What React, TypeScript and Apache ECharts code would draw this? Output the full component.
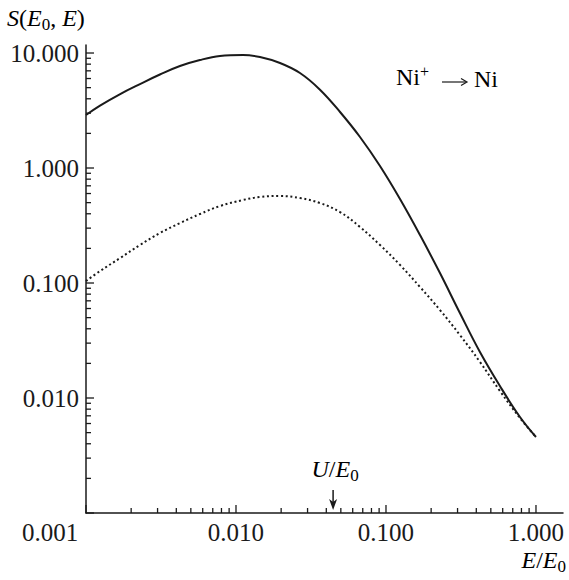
import { useEffect, useRef } from "react";
import * as echarts from "echarts";

const X_RANGE = [0.001, 1.514];
const Y_RANGE = [0.001, 11.74];
const X_MAJOR = [0.001, 0.01, 0.1, 1];
const Y_MAJOR = [0.001, 0.01, 0.1, 1, 10];
const X_MINOR_DECADES = [0.001, 0.01, 0.1];
const Y_MINOR_DECADES = [0.001, 0.01, 0.1, 1];
const MINOR_STEPS = [2, 3, 4, 5, 6, 7, 8, 9];

const E_RATIO = [0.001, 0.00124, 0.00169, 0.00229, 0.00311, 0.00423, 0.00575, 0.00782, 0.01114, 0.01445, 0.01965, 0.0267, 0.0363, 0.0494, 0.0671, 0.0912, 0.124, 0.1686, 0.229, 0.311, 0.423, 0.575, 0.782, 1.0];
const SOLID_Y = [2.89, 3.49, 4.4, 5.37, 6.5, 7.71, 8.69, 9.42, 9.61, 9.23, 8.19, 6.7, 4.8, 3.07, 1.86, 1.04, 0.537, 0.261, 0.122, 0.0548, 0.0251, 0.0127, 0.00684, 0.00458];
const DOTTED_Y = [0.104, 0.127, 0.165, 0.214, 0.272, 0.332, 0.398, 0.467, 0.527, 0.56, 0.571, 0.548, 0.496, 0.414, 0.307, 0.214, 0.1436, 0.0923, 0.0582, 0.0353, 0.0206, 0.01151, 0.0067, 0.00458];

const U_E0 = 0.0444;

const FONT = "Liberation Serif";
const INK = "#1a1a1a";

function isPow10(v: number) {
  const e = Math.log10(v);
  return Math.abs(e - Math.round(e)) < 1e-6;
}

export default function App() {
  const ref = useRef<HTMLDivElement>(null);
  useEffect(() => {
    if (!ref.current) return;
    const chart = echarts.init(ref.current, undefined, { renderer: "svg" });

    const tickData: number[][] = [];
    X_MAJOR.forEach((v) => tickData.push([v, Y_RANGE[0], 0, 8]));
    Y_MAJOR.forEach((v) => tickData.push([X_RANGE[0], v, 1, 8]));
    X_MINOR_DECADES.forEach((d) => MINOR_STEPS.forEach((m) => tickData.push([d * m, Y_RANGE[0], 0, 5])));
    Y_MINOR_DECADES.forEach((d) => MINOR_STEPS.forEach((m) => tickData.push([X_RANGE[0], d * m, 1, 5])));

    const italic = { fontFamily: FONT, fontSize: 24, fontStyle: "italic", color: INK };
    const normal = { fontFamily: FONT, fontSize: 24, color: INK };
    const sub = { fontFamily: FONT, fontSize: 17, color: INK, padding: [12, 0, 0, 0] };
    const sup = { fontFamily: FONT, fontSize: 16, color: INK, padding: [0, 0, 12, 0] };

    chart.setOption({
      animation: false,
      grid: { left: 86, right: 6, top: 45, bottom: 67 },
      xAxis: {
        type: "log",
        logBase: 10,
        min: X_RANGE[0],
        max: X_RANGE[1],
        axisLine: { show: true, lineStyle: { color: INK, width: 1.5 } },
        axisTick: { show: false },
        splitLine: { show: false },
        minorTick: { show: false },
        axisLabel: {
          margin: 7,
          fontFamily: FONT,
          fontSize: 25,
          color: INK,
          formatter: (v: number) => {
            if (!isPow10(v)) return "";
            if (Math.round(Math.log10(v)) === -3) return "{a|0.001}";
            return Number(v).toFixed(3);
          },
          rich: { a: { fontFamily: FONT, fontSize: 25, color: INK, padding: [0, 72, 0, 0] } },
        },
      },
      yAxis: {
        type: "log",
        logBase: 10,
        min: Y_RANGE[0],
        max: Y_RANGE[1],
        axisLine: { show: true, lineStyle: { color: INK, width: 1.5 } },
        axisTick: { show: false },
        splitLine: { show: false },
        axisLabel: {
          margin: 7,
          fontFamily: FONT,
          fontSize: 25,
          color: INK,
          formatter: (v: number) => {
            if (!isPow10(v)) return "";
            if (Math.round(Math.log10(v)) === -3) return "";
            return Number(v).toFixed(3);
          },
        },
      },
      graphic: [
        {
          type: "text",
          left: 7,
          top: 6,
          style: {
            text: "{i|S}{n|(}{i|E}{s|0}{n|, }{i|E}{n|)}",
            rich: { i: italic, n: normal, s: sub },
          },
        },
        {
          type: "text",
          left: 396,
          top: 63,
          style: {
            text: "{n|Ni}{p|+}",
            rich: { n: normal, p: sup },
          },
        },
        {
          type: "line",
          shape: { x1: 442, y1: 82, x2: 466, y2: 82 },
          style: { stroke: INK, lineWidth: 1.2 },
        },
        {
          type: "polyline",
          shape: { points: [[461, 78.5], [467, 82], [461, 85.5]] },
          style: { stroke: INK, lineWidth: 1.2, fill: "none" },
        },
        {
          type: "text",
          left: 474,
          top: 67,
          style: {
            text: "{n|Ni}",
            rich: { n: normal },
          },
        },
        {
          type: "text",
          right: 3,
          top: 548,
          style: {
            text: "{i|E}{n|/}{i|E}{s|0}",
            rich: { i: italic, n: normal, s: sub },
          },
        },
      ],
      series: [
        {
          type: "line",
          data: E_RATIO.map((x, i) => [x, SOLID_Y[i]]),
          smooth: 0.4,
          showSymbol: false,
          lineStyle: { color: INK, width: 2 },
        },
        {
          type: "line",
          data: E_RATIO.map((x, i) => [x, DOTTED_Y[i]]),
          smooth: 0.4,
          showSymbol: false,
          lineStyle: { color: INK, width: 2, type: [2, 2.7] },
        },
        {
          type: "custom",
          clip: false,
          silent: true,
          data: tickData,
          renderItem: (_p: any, api: any) => {
            const pt = api.coord([api.value(0), api.value(1)]);
            const dir = api.value(2);
            const len = api.value(3);
            return {
              type: "line",
              shape:
                dir === 0
                  ? { x1: pt[0], y1: pt[1], x2: pt[0], y2: pt[1] - len }
                  : { x1: pt[0], y1: pt[1], x2: pt[0] + len, y2: pt[1] },
              style: { stroke: INK, lineWidth: 1.3 },
            };
          },
        },
        {
          type: "custom",
          clip: false,
          silent: true,
          data: [[U_E0, Y_RANGE[0]]],
          renderItem: (_p: any, api: any) => {
            const pt = api.coord([api.value(0), api.value(1)]);
            return {
              type: "group",
              children: [
                {
                  type: "line",
                  shape: { x1: pt[0], y1: pt[1] - 23, x2: pt[0], y2: pt[1] - 8 },
                  style: { stroke: INK, lineWidth: 1.5 },
                },
                {
                  type: "polygon",
                  shape: { points: [[pt[0] - 4, pt[1] - 14], [pt[0], pt[1] - 11], [pt[0] + 4, pt[1] - 14], [pt[0], pt[1] - 3]] },
                  style: { fill: INK },
                },
                {
                  type: "text",
                  x: pt[0] + 2,
                  y: pt[1] - 44,
                  style: {
                    text: "{i|U}{n|/}{i|E}{s|0}",
                    rich: { i: italic, n: normal, s: sub },
                    align: "center",
                    verticalAlign: "middle",
                  },
                },
              ],
            };
          },
        },
      ],
    });
    return () => chart.dispose();
  }, []);
  return <div ref={ref} style={{ width: 569, height: 580, position: "absolute", left: 0, top: 0 }} />;
}
